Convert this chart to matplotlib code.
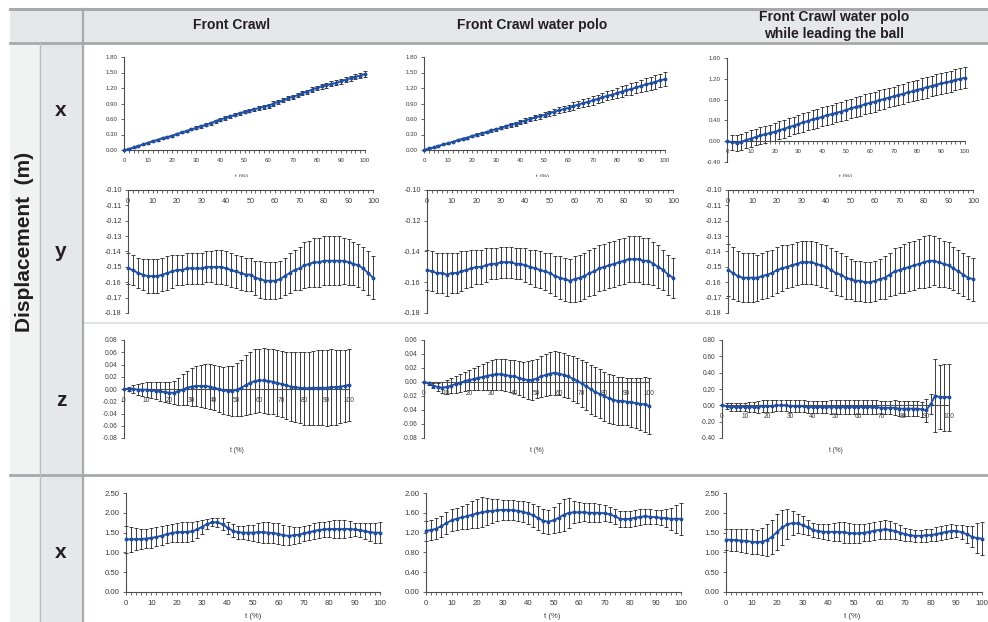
import numpy as np
import matplotlib
matplotlib.use("Agg")
import matplotlib.pyplot as plt
from matplotlib.patches import Rectangle
from matplotlib.lines import Line2D
from matplotlib.ticker import MultipleLocator, FuncFormatter

plt.rcParams['font.family'] = ['Liberation Sans', 'DejaVu Sans']

# time points (% of cycle)
t = np.arange(0, 101, 2)

col_titles = ["Front Crawl", "Front Crawl water polo",
              "Front Crawl water polo", "while leading the ball"]
row_labels = ["x", "y", "z", "x"]

# ---- row 1: x displacement ----
mean_a = [0.00, 0.02, 0.05, 0.08, 0.11, 0.14, 0.17, 0.20, 0.23, 0.25,
          0.28, 0.31, 0.34, 0.37, 0.40, 0.43, 0.46, 0.49, 0.52, 0.56,
          0.59, 0.62, 0.65, 0.68, 0.71, 0.74, 0.76, 0.79, 0.81, 0.84,
          0.86, 0.90, 0.93, 0.96, 1.00, 1.03, 1.06, 1.10, 1.13, 1.17,
          1.20, 1.23, 1.25, 1.28, 1.30, 1.33, 1.36, 1.39, 1.42, 1.44,
          1.47]
sd_a = [0.00, 0.01, 0.01, 0.01, 0.01, 0.02, 0.02, 0.02, 0.02, 0.02,
        0.02, 0.02, 0.02, 0.02, 0.02, 0.03, 0.03, 0.03, 0.03, 0.03,
        0.03, 0.03, 0.03, 0.03, 0.03, 0.03, 0.03, 0.03, 0.04, 0.04,
        0.04, 0.04, 0.04, 0.04, 0.04, 0.04, 0.04, 0.04, 0.04, 0.04,
        0.04, 0.04, 0.05, 0.05, 0.05, 0.05, 0.05, 0.05, 0.05, 0.05,
        0.05]
mean_b = [0.00, 0.03, 0.05, 0.08, 0.11, 0.13, 0.16, 0.19, 0.22, 0.24,
          0.27, 0.30, 0.32, 0.35, 0.38, 0.40, 0.43, 0.46, 0.49, 0.51,
          0.54, 0.57, 0.60, 0.63, 0.65, 0.68, 0.71, 0.74, 0.77, 0.79,
          0.82, 0.85, 0.88, 0.91, 0.93, 0.96, 0.99, 1.02, 1.05, 1.07,
          1.10, 1.13, 1.16, 1.18, 1.21, 1.24, 1.27, 1.29, 1.32, 1.35,
          1.37]
sd_b = [0.00, 0.01, 0.01, 0.01, 0.01, 0.01, 0.01, 0.01, 0.02, 0.02,
        0.02, 0.02, 0.02, 0.02, 0.03, 0.03, 0.03, 0.03, 0.04, 0.04,
        0.04, 0.04, 0.04, 0.05, 0.05, 0.05, 0.05, 0.06, 0.06, 0.06,
        0.06, 0.07, 0.07, 0.07, 0.08, 0.08, 0.08, 0.09, 0.09, 0.09,
        0.10, 0.10, 0.10, 0.11, 0.11, 0.12, 0.12, 0.12, 0.13, 0.13,
        0.14]
mean_c = [0.00, -0.02, -0.03, -0.01, 0.02, 0.05, 0.08, 0.11, 0.13, 0.16,
          0.18, 0.21, 0.24, 0.27, 0.30, 0.33, 0.36, 0.39, 0.42, 0.44,
          0.47, 0.50, 0.52, 0.55, 0.57, 0.60, 0.63, 0.66, 0.68, 0.71,
          0.74, 0.76, 0.79, 0.81, 0.84, 0.86, 0.89, 0.91, 0.94, 0.96,
          0.99, 1.01, 1.04, 1.06, 1.09, 1.11, 1.13, 1.15, 1.18, 1.20,
          1.22]
sd_c = [0.00, 0.14, 0.15, 0.15, 0.15, 0.16, 0.16, 0.16, 0.16, 0.16,
        0.17, 0.17, 0.17, 0.17, 0.17, 0.17, 0.18, 0.18, 0.18, 0.18,
        0.18, 0.18, 0.18, 0.18, 0.18, 0.19, 0.19, 0.19, 0.19, 0.19,
        0.19, 0.19, 0.19, 0.19, 0.19, 0.19, 0.19, 0.19, 0.19, 0.19,
        0.19, 0.20, 0.20, 0.20, 0.20, 0.20, 0.20, 0.20, 0.20, 0.20,
        0.20]

# ---- row 2: y displacement ----
mean_d = [-0.151, -0.152, -0.154, -0.155, -0.156, -0.156, -0.156, -0.155, -0.154, -0.153,
          -0.152, -0.152, -0.151, -0.151, -0.151, -0.151, -0.150, -0.150, -0.150, -0.150,
          -0.151, -0.152, -0.153, -0.154, -0.155, -0.155, -0.157, -0.158, -0.159, -0.159,
          -0.159, -0.158, -0.156, -0.154, -0.152, -0.151, -0.149, -0.148, -0.147, -0.147,
          -0.146, -0.146, -0.146, -0.146, -0.146, -0.147, -0.148, -0.149, -0.151, -0.154,
          -0.157]
sd_d = [0.010, 0.010, 0.010, 0.010, 0.011, 0.011, 0.011, 0.011, 0.011, 0.011,
        0.010, 0.010, 0.010, 0.010, 0.010, 0.010, 0.010, 0.010, 0.011, 0.011,
        0.011, 0.011, 0.011, 0.011, 0.011, 0.011, 0.011, 0.012, 0.012, 0.012,
        0.012, 0.012, 0.012, 0.013, 0.013, 0.014, 0.015, 0.015, 0.016, 0.016,
        0.016, 0.016, 0.016, 0.016, 0.015, 0.015, 0.014, 0.014, 0.014, 0.014,
        0.014]
mean_e = [-0.152, -0.153, -0.154, -0.154, -0.155, -0.154, -0.154, -0.153, -0.152, -0.151,
          -0.150, -0.150, -0.149, -0.148, -0.148, -0.147, -0.147, -0.147, -0.148, -0.148,
          -0.149, -0.150, -0.151, -0.152, -0.153, -0.154, -0.156, -0.157, -0.158, -0.159,
          -0.158, -0.157, -0.156, -0.154, -0.153, -0.151, -0.150, -0.149, -0.148, -0.147,
          -0.146, -0.145, -0.145, -0.145, -0.146, -0.146, -0.148, -0.150, -0.152, -0.155,
          -0.157]
sd_e = [0.013, 0.013, 0.013, 0.013, 0.014, 0.013, 0.013, 0.013, 0.012, 0.012,
        0.011, 0.011, 0.011, 0.010, 0.010, 0.010, 0.010, 0.010, 0.010, 0.010,
        0.011, 0.011, 0.012, 0.012, 0.012, 0.013, 0.013, 0.014, 0.014, 0.014,
        0.015, 0.015, 0.015, 0.015, 0.015, 0.015, 0.015, 0.015, 0.015, 0.015,
        0.015, 0.015, 0.015, 0.015, 0.015, 0.015, 0.014, 0.014, 0.013, 0.013,
        0.013]
mean_f = [-0.152, -0.154, -0.156, -0.157, -0.157, -0.157, -0.157, -0.156, -0.155, -0.154,
          -0.152, -0.151, -0.150, -0.149, -0.148, -0.147, -0.147, -0.147, -0.148, -0.149,
          -0.150, -0.152, -0.154, -0.155, -0.157, -0.158, -0.159, -0.159, -0.160, -0.160,
          -0.159, -0.158, -0.157, -0.155, -0.153, -0.152, -0.151, -0.150, -0.149, -0.148,
          -0.147, -0.146, -0.146, -0.147, -0.148, -0.149, -0.151, -0.153, -0.155, -0.157,
          -0.158]
sd_f = [0.017, 0.017, 0.016, 0.016, 0.016, 0.016, 0.015, 0.015, 0.015, 0.015,
        0.015, 0.015, 0.014, 0.014, 0.014, 0.014, 0.014, 0.014, 0.014, 0.014,
        0.014, 0.014, 0.014, 0.014, 0.014, 0.013, 0.013, 0.013, 0.013, 0.013,
        0.013, 0.013, 0.014, 0.014, 0.015, 0.015, 0.016, 0.016, 0.016, 0.016,
        0.017, 0.017, 0.016, 0.016, 0.015, 0.015, 0.014, 0.014, 0.014, 0.014,
        0.014]

# ---- row 3: z displacement ----
mean_g = [0.000, 0.000, 0.000, -0.001, -0.001, -0.001, -0.002, -0.003, -0.004, -0.005,
          -0.006, -0.006, -0.004, -0.001, 0.002, 0.004, 0.005, 0.005, 0.005, 0.004,
          0.002, 0.000, -0.002, -0.003, -0.003, -0.001, 0.002, 0.006, 0.010, 0.013,
          0.014, 0.014, 0.013, 0.012, 0.010, 0.008, 0.006, 0.004, 0.003, 0.002,
          0.001, 0.001, 0.002, 0.002, 0.002, 0.002, 0.003, 0.003, 0.004, 0.005,
          0.007]
sd_g = [0.000, 0.004, 0.007, 0.009, 0.011, 0.012, 0.013, 0.014, 0.015, 0.016,
        0.017, 0.019, 0.022, 0.025, 0.028, 0.031, 0.033, 0.035, 0.036, 0.037,
        0.037, 0.037, 0.038, 0.040, 0.041, 0.043, 0.046, 0.049, 0.051, 0.052,
        0.052, 0.053, 0.053, 0.053, 0.054, 0.054, 0.055, 0.056, 0.057, 0.058,
        0.059, 0.060, 0.060, 0.061, 0.061, 0.062, 0.062, 0.061, 0.060, 0.059,
        0.059]
mean_h = [0.000, -0.002, -0.005, -0.007, -0.008, -0.007, -0.005, -0.003, -0.001, 0.001,
          0.003, 0.004, 0.006, 0.007, 0.009, 0.010, 0.011, 0.011, 0.010, 0.009,
          0.008, 0.006, 0.004, 0.003, 0.003, 0.005, 0.008, 0.010, 0.012, 0.013,
          0.012, 0.010, 0.008, 0.005, 0.002, -0.002, -0.006, -0.010, -0.014, -0.017,
          -0.020, -0.023, -0.025, -0.027, -0.027, -0.028, -0.029, -0.030, -0.031, -0.032,
          -0.034]
sd_h = [0.000, 0.002, 0.004, 0.006, 0.008, 0.010, 0.011, 0.012, 0.013, 0.014,
        0.014, 0.016, 0.017, 0.019, 0.020, 0.021, 0.022, 0.022, 0.023, 0.023,
        0.023, 0.024, 0.025, 0.027, 0.028, 0.028, 0.029, 0.030, 0.031, 0.031,
        0.031, 0.031, 0.031, 0.032, 0.032, 0.033, 0.034, 0.035, 0.035, 0.035,
        0.035, 0.035, 0.035, 0.034, 0.034, 0.034, 0.035, 0.036, 0.037, 0.039,
        0.040]
mean_i = [0.00, -0.01, -0.02, -0.02, -0.02, -0.02, -0.02, -0.02, -0.02, -0.01,
          -0.01, -0.01, 0.00, 0.00, 0.00, -0.01, -0.01, -0.01, -0.01, -0.02,
          -0.02, -0.02, -0.02, -0.02, -0.02, -0.02, -0.02, -0.02, -0.02, -0.02,
          -0.02, -0.02, -0.02, -0.02, -0.02, -0.03, -0.03, -0.03, -0.03, -0.04,
          -0.04, -0.04, -0.04, -0.04, -0.05, -0.06, 0.02, 0.12, 0.10, 0.10,
          0.10]
sd_i = [0.00, 0.04, 0.05, 0.05, 0.05, 0.05, 0.06, 0.06, 0.07, 0.07,
        0.07, 0.07, 0.07, 0.07, 0.07, 0.07, 0.07, 0.07, 0.07, 0.07,
        0.07, 0.07, 0.07, 0.07, 0.08, 0.08, 0.08, 0.08, 0.08, 0.08,
        0.08, 0.08, 0.08, 0.08, 0.08, 0.08, 0.08, 0.08, 0.09, 0.09,
        0.09, 0.09, 0.09, 0.09, 0.09, 0.14, 0.12, 0.45, 0.39, 0.41,
        0.41]

# ---- row 4: x (second block) ----
mean_j = [1.33, 1.33, 1.33, 1.34, 1.35, 1.37, 1.39, 1.42, 1.46, 1.49,
          1.51, 1.51, 1.52, 1.53, 1.58, 1.65, 1.72, 1.76, 1.76, 1.71,
          1.62, 1.55, 1.51, 1.50, 1.50, 1.50, 1.51, 1.51, 1.50, 1.49,
          1.47, 1.43, 1.42, 1.43, 1.45, 1.48, 1.51, 1.54, 1.57, 1.58,
          1.59, 1.59, 1.59, 1.59, 1.59, 1.58, 1.56, 1.54, 1.51, 1.50,
          1.50]
sd_j = [0.34, 0.31, 0.28, 0.26, 0.25, 0.25, 0.24, 0.24, 0.23, 0.23,
        0.24, 0.25, 0.26, 0.25, 0.22, 0.18, 0.12, 0.10, 0.12, 0.15,
        0.16, 0.16, 0.16, 0.17, 0.18, 0.20, 0.24, 0.26, 0.26, 0.26,
        0.26, 0.25, 0.24, 0.22, 0.20, 0.19, 0.19, 0.20, 0.20, 0.20,
        0.21, 0.22, 0.22, 0.22, 0.20, 0.17, 0.17, 0.20, 0.22, 0.25,
        0.26]
mean_k = [1.24, 1.25, 1.28, 1.33, 1.39, 1.45, 1.48, 1.51, 1.53, 1.56,
          1.59, 1.61, 1.63, 1.64, 1.65, 1.66, 1.66, 1.65, 1.64, 1.62,
          1.59, 1.55, 1.49, 1.44, 1.42, 1.45, 1.50, 1.56, 1.60, 1.61,
          1.61, 1.61, 1.60, 1.60, 1.60, 1.59, 1.57, 1.53, 1.48, 1.47,
          1.48, 1.50, 1.52, 1.53, 1.52, 1.51, 1.50, 1.49, 1.48, 1.48,
          1.48]
sd_k = [0.20, 0.20, 0.21, 0.21, 0.22, 0.22, 0.22, 0.23, 0.25, 0.27,
        0.29, 0.30, 0.27, 0.24, 0.22, 0.20, 0.20, 0.20, 0.20, 0.21,
        0.22, 0.23, 0.24, 0.24, 0.24, 0.26, 0.29, 0.32, 0.30, 0.22,
        0.20, 0.18, 0.19, 0.19, 0.18, 0.16, 0.15, 0.15, 0.16, 0.16,
        0.16, 0.16, 0.16, 0.15, 0.15, 0.14, 0.15, 0.18, 0.22, 0.28,
        0.32]
mean_l = [1.32, 1.32, 1.31, 1.30, 1.29, 1.27, 1.26, 1.27, 1.31, 1.40,
          1.52, 1.63, 1.71, 1.74, 1.73, 1.69, 1.63, 1.57, 1.54, 1.52,
          1.52, 1.52, 1.52, 1.51, 1.49, 1.48, 1.48, 1.50, 1.52, 1.55,
          1.57, 1.58, 1.57, 1.54, 1.50, 1.46, 1.43, 1.42, 1.42, 1.43,
          1.44, 1.46, 1.49, 1.52, 1.54, 1.54, 1.51, 1.46, 1.40, 1.36,
          1.35]
sd_l = [0.27, 0.28, 0.28, 0.29, 0.30, 0.31, 0.31, 0.34, 0.40, 0.43,
        0.46, 0.44, 0.38, 0.30, 0.25, 0.22, 0.20, 0.18, 0.18, 0.19,
        0.20, 0.22, 0.24, 0.26, 0.25, 0.24, 0.23, 0.22, 0.22, 0.23,
        0.23, 0.23, 0.22, 0.20, 0.18, 0.16, 0.15, 0.15, 0.15, 0.16,
        0.16, 0.17, 0.17, 0.17, 0.18, 0.16, 0.18, 0.21, 0.27, 0.38,
        0.41]

W, H = 988, 622
fig = plt.figure(figsize=(W / 100, H / 100), dpi=100)
fig.patch.set_facecolor('white')


def fx(x):
    return x / W


def fy(y):
    return 1 - y / H


def fig_rect(x0, y0, x1, y1, color, z=-2):
    fig.add_artist(Rectangle((fx(x0), fy(y1)), (x1 - x0) / W, (y1 - y0) / H,
                             transform=fig.transFigure, facecolor=color,
                             edgecolor='none', zorder=z))


def fig_line(x0, y0, x1, y1, color, lw):
    fig.add_artist(Line2D([fx(x0), fx(x1)], [fy(y0), fy(y1)],
                          transform=fig.transFigure, color=color, lw=lw, zorder=3))


# table background
fig_rect(10, 9, 988, 43, '#e6e7e8')
fig_rect(10, 43, 40, 622, '#f1f2f2')
fig_rect(40, 43, 83, 622, '#e6e7e8')
fig_line(10, 9, 988, 9, '#a7a9ac', 2.2)
fig_line(10, 43, 988, 43, '#a7a9ac', 2.0)
fig_line(10, 475, 988, 475, '#a7a9ac', 2.0)
fig_line(83, 323, 988, 323, '#dcdddf', 1.2)
fig_line(83, 9, 83, 622, '#a7a9ac', 1.6)
fig_line(40, 43, 40, 622, '#bcbec0', 1.0)

hdr = dict(fontsize=10, fontweight='bold', color='#231f20', ha='center', va='center')
fig.text(fx(232), fy(25), col_titles[0], **hdr)
fig.text(fx(532), fy(25), col_titles[1], **hdr)
fig.text(fx(834), fy(17), col_titles[2], **hdr)
fig.text(fx(834), fy(34), col_titles[3], **hdr)

lab = dict(fontsize=15, fontweight='bold', color='#231f20', ha='center', va='center')
for lbl, yc in zip(row_labels, [110, 252, 400, 552]):
    fig.text(fx(61), fy(yc), lbl, **lab)
fig.text(fx(25), fy(242), "Displacement  (m)", rotation=90, **lab)

LINE_C = '#1f4fa3'
BAR_C = '#3a3a3a'
TXT_C = '#3a3a3a'


def draw_panel(box, mean, sd, ylim, ystep, cross, fs, xlab=None):
    x0, x1, ytop, ybot = box
    ax = fig.add_axes([fx(x0), fy(ybot), (x1 - x0) / W, (ybot - ytop) / H])
    ax.errorbar(t, mean, yerr=sd, fmt='none', ecolor=BAR_C, elinewidth=0.7,
                capsize=1.6, capthick=0.7, clip_on=False, zorder=2)
    ax.plot(t, mean, color=LINE_C, lw=1.3, marker='o', ms=1.8,
            clip_on=False, zorder=3)
    ax.set_xlim(0, 100)
    ax.set_ylim(*ylim)
    ax.set_yticks(np.round(np.arange(ylim[0], ylim[1] + ystep / 2, ystep), 4))
    ax.yaxis.set_major_formatter(FuncFormatter(
        lambda v, p: '%.2f' % (0.0 if abs(v) < 1e-9 else v)))
    ax.xaxis.set_major_locator(MultipleLocator(10))
    ax.xaxis.set_minor_locator(MultipleLocator(2))
    for s in ['top', 'right']:
        ax.spines[s].set_visible(False)
    for s in ['left', 'bottom']:
        ax.spines[s].set_color('#4d4d4d')
        ax.spines[s].set_linewidth(0.8)
    ax.spines['bottom'].set_position(('data', cross))
    ax.tick_params(axis='both', which='both', direction='out', length=2.5,
                   width=0.6, color='#4d4d4d', labelsize=fs,
                   labelcolor=TXT_C, pad=2)
    ax.tick_params(axis='x', which='major', pad=3)
    ax.patch.set_alpha(0)
    if xlab is not None:
        fig.text(fx(xlab[0]), fy(xlab[1]), 't (%)', fontsize=fs,
                 color=TXT_C, ha='center', va='center')
    return ax


# row 1
draw_panel((124, 365, 57, 150), mean_a, sd_a, (0, 1.8), 0.3, 0, 4.4, (242, 177))
draw_panel((424, 665, 57, 150), mean_b, sd_b, (0, 1.8), 0.3, 0, 4.4, (543, 177))
draw_panel((727, 965, 58, 162), mean_c, sd_c, (-0.4, 1.6), 0.4, 0, 4.4, (846, 177))
# partly hidden axis titles of the first row
fig_rect(90, 176.5, 985, 185.5, 'white', z=5)

# row 2
draw_panel((128, 373, 190, 313), mean_d, sd_d, (-0.18, -0.10), 0.01, -0.10, 5.2)
draw_panel((427, 673, 190, 313), mean_e, sd_e, (-0.18, -0.10), 0.02, -0.10, 5.2)
draw_panel((728, 973, 190, 313), mean_f, sd_f, (-0.18, -0.10), 0.01, -0.10, 5.2)

# row 3
draw_panel((124, 349, 340, 438), mean_g, sd_g, (-0.08, 0.08), 0.02, 0, 4.7, (237, 450))
draw_panel((424, 649, 340, 438), mean_h, sd_h, (-0.08, 0.06), 0.02, 0, 4.7, (537, 450))
draw_panel((722, 949, 340, 438), mean_i, sd_i, (-0.40, 0.80), 0.20, 0, 4.7, (836, 450))

# row 4
draw_panel((126, 380, 493, 592), mean_j, sd_j, (0, 2.5), 0.5, 0, 5.6, (253, 617))
draw_panel((426, 681, 493, 592), mean_k, sd_k, (0, 2.0), 0.4, 0, 5.6, (552, 617))
draw_panel((726, 982, 493, 592), mean_l, sd_l, (0, 2.5), 0.5, 0, 5.6, (852, 617))

fig.savefig('out.png', dpi=100)
